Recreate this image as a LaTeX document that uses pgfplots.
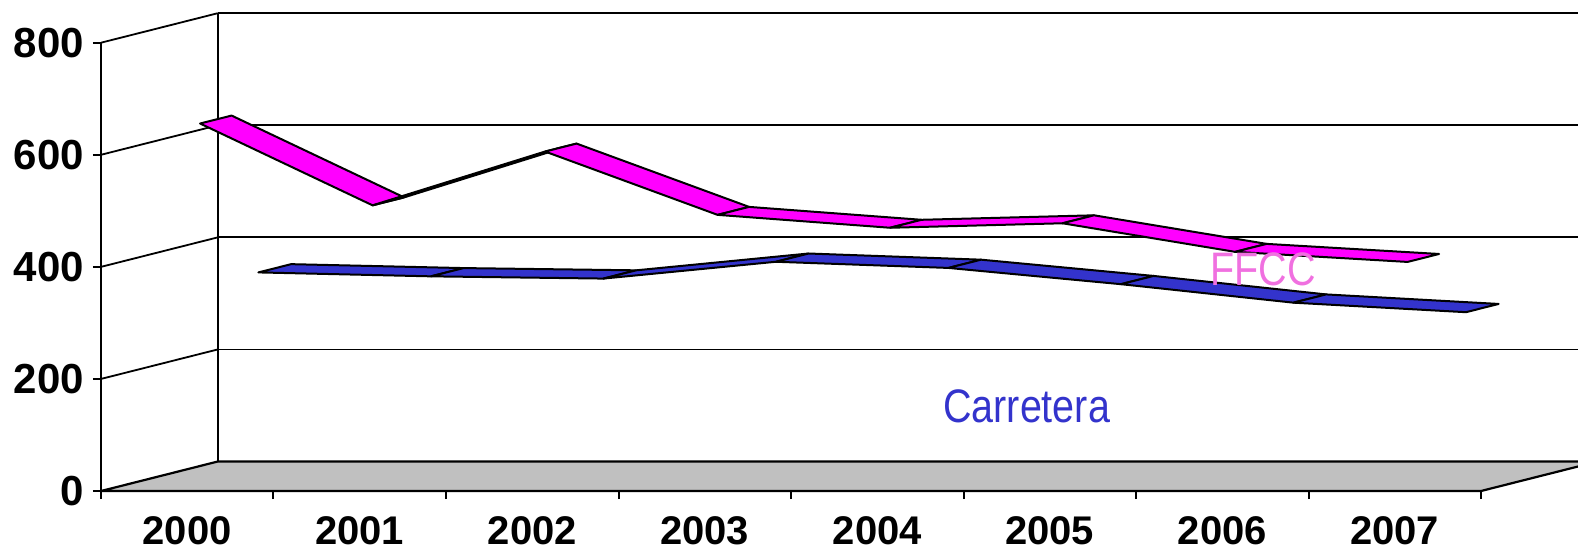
\documentclass[border=0pt]{standalone}
\usepackage{pgfplots}
\pgfplotsset{compat=1.18}
\usepackage{pgfplotstable}
\usepackage{fontspec}
\setmainfont{Liberation Sans}
\newfontfamily\narrowfont[FakeStretch=0.84]{Liberation Sans}
\definecolor{ffccfill}{RGB}{255,0,255}
\definecolor{carrfill}{RGB}{51,51,204}
\definecolor{ffcctext}{RGB}{240,112,224}
\definecolor{floorgray}{RGB}{192,192,192}

% values (index 0 = 2000)
\pgfplotstableread{
i v
0 650
1 504
2 600
3 487
4 464
5 472
6 421
7 403
}\ffcc
\pgfplotstableread{
i v
0 358
1 351
2 347
3 377
4 366
5 337
6 304
7 287
}\carretera

\pgfplotsset{
  ribF/.style={fill=ffccfill, draw=black, line width=1pt, line join=round},
  ribC/.style={fill=carrfill, draw=black, line width=1pt, line join=round},
}
% depth vector of the whole 3D box in data units
\def\DX{0.6765}
\def\DV{52.6}

% #1 table, #2 front depth fraction, #3 back depth fraction, #4 style
\newcommand\ribbon[4]{%
  \pgfplotsinvokeforeach{0,...,6}{%
    \pgfmathtruncatemacro\nxt{##1+1}%
    \pgfplotstablegetelem{##1}{v}\of#1\let\va\pgfplotsretval
    \pgfplotstablegetelem{\nxt}{v}\of#1\let\vb\pgfplotsretval
    \pgfmathsetmacro\xa{##1+0.5+#2*\DX}%
    \pgfmathsetmacro\ya{\va+#2*\DV}%
    \pgfmathsetmacro\xb{##1+1.5+#2*\DX}%
    \pgfmathsetmacro\yb{\vb+#2*\DV}%
    \pgfmathsetmacro\xc{##1+1.5+#3*\DX}%
    \pgfmathsetmacro\yc{\vb+#3*\DV}%
    \pgfmathsetmacro\xd{##1+0.5+#3*\DX}%
    \pgfmathsetmacro\yd{\va+#3*\DV}%
    \edef\tmp{\noexpand\addplot[#4] coordinates {(\xa,\ya) (\xb,\yb) (\xc,\yc) (\xd,\yd)} -- cycle;}%
    \tmp
  }%
}

\begin{document}
\begin{tikzpicture}
\begin{axis}[
  scale only axis,
  width=690pt, height=224.15pt,
  xmin=0, xmax=8, ymin=0, ymax=800,
  clip=false,
  axis on top,
  axis x line=bottom, axis y line=left,
  axis line style={-, line width=1.1pt},
  tick align=outside,
  ytick={0,200,400,600,800},
  major tick length=4pt,
  every tick/.style={black, line width=1pt},
  xtick={0.5,1.5,...,7.5},
  xticklabels={2000,2001,2002,2003,2004,2005,2006,2007},
  major x tick style={draw=none},
  minor xtick={0,1,...,8},
  minor tick length=4pt,
  minor x tick style={draw=black, line width=1pt},
  /pgf/number format/assume math mode=true,
  yticklabel style={font=\bfseries\fontsize{21}{21}\selectfont, xshift=-1pt},
  xticklabel style={font=\bfseries\fontsize{20}{20}\selectfont, yshift=-5pt},
]
% floor
\draw[fill=floorgray, draw=black, line width=1.1pt, line join=round]
  (axis cs:0,0) -- (axis cs:0.6765,52.6) -- (axis cs:8.6765,52.6) -- (axis cs:8,0) -- cycle;
% left wall diagonals
\draw[black, line width=0.9pt] (axis cs:0,200) -- (axis cs:0.6765,252.6);
\draw[black, line width=0.9pt] (axis cs:0,400) -- (axis cs:0.6765,452.6);
\draw[black, line width=0.9pt] (axis cs:0,600) -- (axis cs:0.6765,652.6);
\draw[black, line width=0.9pt] (axis cs:0,800) -- (axis cs:0.6765,852.6);
% back wall
\draw[black, line width=1pt] (axis cs:0.6765,52.6) -- (axis cs:0.6765,852.6);
\draw[black, line width=0.9pt] (axis cs:0.6765,252.6) -- (axis cs:8.6765,252.6);
\draw[black, line width=0.9pt] (axis cs:0.6765,452.6) -- (axis cs:8.6765,452.6);
\draw[black, line width=0.9pt] (axis cs:0.6765,652.6) -- (axis cs:8.6765,652.6);
\draw[black, line width=0.9pt] (axis cs:0.6765,852.6) -- (axis cs:8.6765,852.6);
% ribbons: back row first, then front row
\ribbon{\carretera}{0.61}{0.89}{ribC}
\ribbon{\ffcc}{0.11}{0.38}{ribF}
% series labels
\node[anchor=base, font=\narrowfont\fontsize{23.5}{23.5}\selectfont, text=ffcctext, inner sep=0pt]
  at (axis cs:6.736,367.6) {FFCC};
\node[anchor=base, font=\narrowfont\fontsize{23.5}{23.5}\selectfont, text=carrfill, inner sep=0pt]
  at (axis cs:5.366,121.9) {Carretera};
\coordinate (bbl) at (axis cs:-0.5855,-107.07);
\coordinate (btr) at (axis cs:8.5623,876.2);
\end{axis}
\pgfresetboundingbox
\path[use as bounding box] (bbl) rectangle (btr);
\end{tikzpicture}
\end{document}
